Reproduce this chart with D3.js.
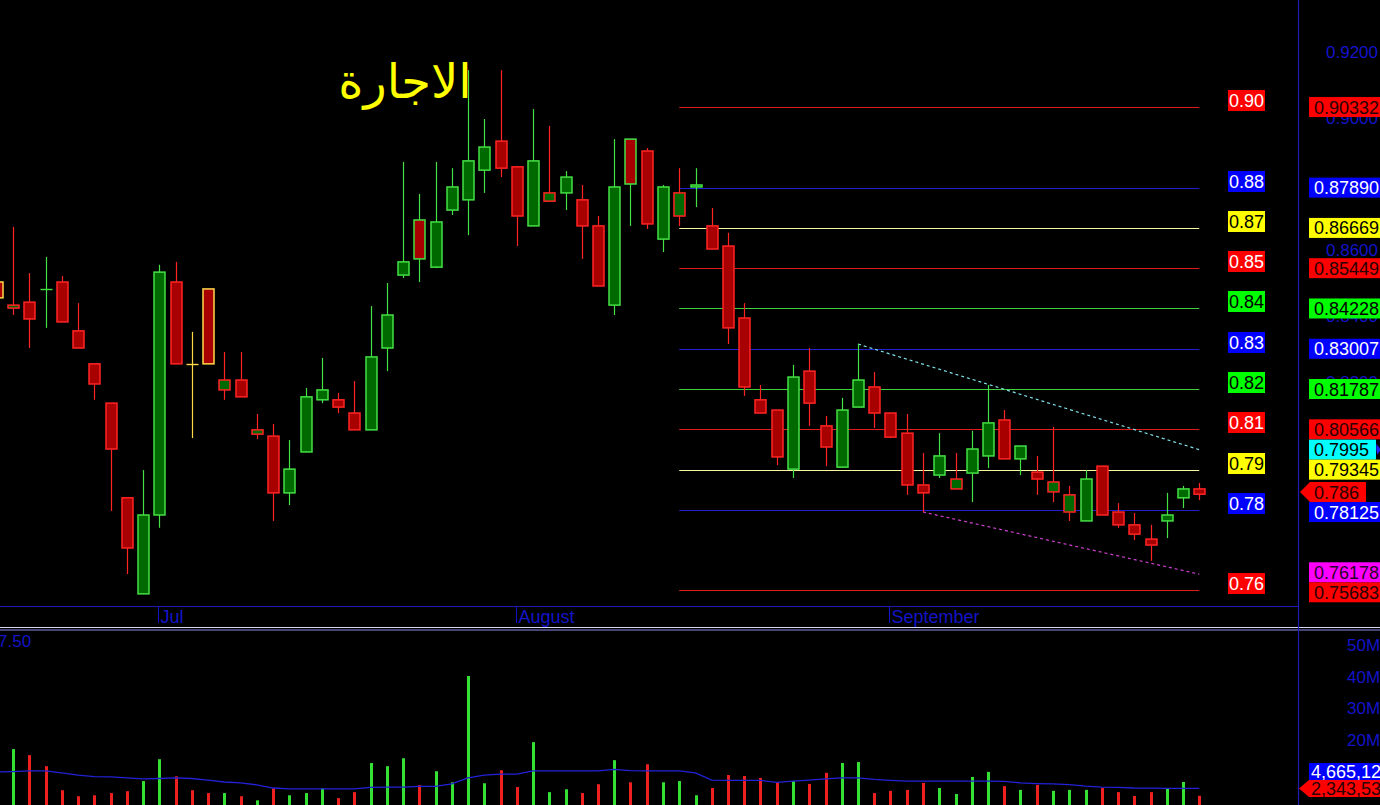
<!DOCTYPE html>
<html><head><meta charset="utf-8">
<script src="https://cdn.jsdelivr.net/npm/d3@7"></script>
<style>html,body{margin:0;padding:0;background:#000;overflow:hidden}svg{display:block}</style>
</head><body>
<svg id="c" width="1380" height="805"></svg>
<script>
// ---------------- data ----------------
const titleText = "الاجارة";
const openP = [0.8503,0.8424,0.8442,0.8482,0.8503,0.8355,0.8255,0.8136,0.7849,0.7558,
  0.7797,0.8503,0.8255,0.8482,0.8176,0.8206,0.8042,0.8036,0.7864,0.7988,
  0.8146,0.8146,0.8106,0.8055,0.8303,0.8524,0.8691,0.8548,0.8721,0.8752,
  0.8842,0.8930,0.8852,0.8673,0.8748,0.8773,0.8752,0.8673,0.8433,0.8936,
  0.8900,0.8633,0.8703,0.8791,0.8673,0.8612,0.8394,0.8146,0.8115,0.7936,
  0.8233,0.8067,0.7942,0.8124,0.8185,0.8106,0.8045,0.7888,0.7918,0.7876,
  0.7924,0.7976,0.8085,0.7967,0.7927,0.7867,0.7806,0.7779,0.7945,0.7806,
  0.7767,0.7724,0.7779,0.7849,0.7876];
const highP = [0.8524,0.8670,0.8530,0.8579,0.8521,0.8439,0.8255,0.8136,0.7849,0.7933,
  0.8555,0.8564,0.8352,0.8482,0.8291,0.8291,0.8103,0.8073,0.8024,0.8182,
  0.8273,0.8167,0.8203,0.8430,0.8500,0.8867,0.8770,0.8867,0.8848,0.9145,
  0.8997,0.9145,0.8855,0.9027,0.8976,0.8839,0.8797,0.8703,0.8936,0.8936,
  0.8909,0.8797,0.8848,0.8848,0.8727,0.8652,0.8439,0.8191,0.8115,0.8252,
  0.8303,0.8097,0.8152,0.8315,0.8230,0.8106,0.8103,0.7985,0.8045,0.7985,
  0.8052,0.8191,0.8115,0.8006,0.7976,0.8064,0.7885,0.7933,0.7945,0.7833,
  0.7803,0.7767,0.7864,0.7885,0.7894];
const lowP = [0.8433,0.8403,0.8303,0.8364,0.8382,0.8303,0.8146,0.7809,0.7618,0.7558,
  0.7758,0.8255,0.8030,0.8255,0.8146,0.8155,0.8027,0.7779,0.7827,0.7988,
  0.8136,0.8106,0.8055,0.8055,0.8233,0.8515,0.8503,0.8545,0.8706,0.8645,
  0.8773,0.8821,0.8612,0.8673,0.8748,0.8721,0.8573,0.8491,0.8403,0.8673,
  0.8664,0.8594,0.8673,0.8730,0.8603,0.8315,0.8158,0.8106,0.7948,0.7909,
  0.8067,0.7945,0.7942,0.8124,0.8061,0.8030,0.7858,0.7806,0.7909,0.7876,
  0.7836,0.7939,0.7967,0.7918,0.7858,0.7836,0.7779,0.7779,0.7797,0.7758,
  0.7721,0.7658,0.7727,0.7818,0.7842];
const closeP = [0.8455,0.8433,0.8391,0.8482,0.8382,0.8303,0.8194,0.7997,0.7697,0.7797,
  0.8533,0.8255,0.8255,0.8255,0.8206,0.8155,0.8055,0.7864,0.7936,0.8155,
  0.8176,0.8124,0.8055,0.8276,0.8403,0.8564,0.8573,0.8685,0.8791,0.8870,
  0.8912,0.8848,0.8703,0.8870,0.8773,0.8821,0.8673,0.8491,0.8791,0.8800,
  0.8679,0.8791,0.8773,0.8797,0.8603,0.8364,0.8185,0.8106,0.7973,0.8215,
  0.8136,0.8003,0.8115,0.8206,0.8106,0.8033,0.7888,0.7864,0.7976,0.7906,
  0.7997,0.8076,0.7967,0.8006,0.7906,0.7897,0.7858,0.7906,0.7797,0.7767,
  0.7739,0.7706,0.7797,0.7876,0.7860];
const prevCloseStart = 0.8455;
// volume in millions
const volumeM = [9.0,17.1,15.2,11.7,4.1,2.2,2.5,3.2,3.8,7.0,
  13.9,8.5,4.1,3.2,3.2,2.2,0.9,4.7,2.5,3.2,
  4.7,1.6,3.5,12.7,11.7,14.2,5.7,10.1,6.6,40.2,
  6.3,10.4,5.1,19.3,3.5,4.4,3.2,6.0,13.6,6.6,
  12.3,6.6,7.0,2.5,4.8,8.9,8.6,8.0,6.7,7.0,
  6.1,9.6,12.7,13.0,3.2,3.9,4.2,6.4,4.8,2.9,
  8.3,9.9,5.4,4.2,5.8,3.9,4.2,4.2,4.8,3.5,
  2.3,3.5,4.8,6.7,2.34353];
const volumeMA = [9.9,10.0,10.2,10.2,9.6,8.9,8.4,8.3,8.0,7.7,
  7.8,8.0,7.8,7.3,6.7,6.4,5.8,4.8,4.5,4.5,
  4.5,4.5,4.5,5.0,5.1,5.1,5.3,5.3,6.1,8.0,
  8.9,9.2,9.2,10.2,10.2,10.2,10.2,10.2,10.7,10.3,
  10.2,10.2,10.2,9.6,7.3,7.2,7.2,7.2,6.6,7.0,
  7.3,7.7,8.0,8.0,7.5,7.2,7.0,7.0,7.0,7.0,
  7.0,7.0,6.9,6.4,6.2,6.1,5.9,5.4,5.1,5.0,
  4.8,4.75,4.7,4.68,4.665125];
const fibLevels = [0.90332,0.87890,0.86669,0.85449,0.84228,0.83007,0.81787,0.80566,0.79345,0.78125,0.75683];
const fibShort = ["0.90","0.88","0.87","0.85","0.84","0.83","0.82","0.81","0.79","0.78","0.76"];
const fibKinds = ["red","blue","yellow","red","green","blue","green","red","yellow","blue","red"];
const fibStartIndex = 42, fibEndIndex = 74;
const trendUpper = [[53,0.8315],[74,0.7995]];
const trendLower = [[57,0.7806],[74,0.76178]];
const priceTicks = [0.92,0.90,0.88,0.86,0.84,0.82,0.80,0.78,0.76];
const volumeTicks = [20,30,40,50];
const monthLabels = ["Jul","August","September"];
const monthStartIndex = [10,32,55];
const volumeCornerText = "7.50";

// ---------------- drawing ----------------
const svg = d3.select("#c");
svg.append("rect").attr("width",1380).attr("height",805).attr("fill","#000");
const N = closeP.length;
const x = d3.scaleLinear().domain([0, N-1]).range([-3.25, 1199.25]);
const y = d3.scaleLinear().domain([0.76, 0.92]).range([580, 52]);
const yv = d3.scaleLinear().domain([0, 50]).range([803.2, 645]);

const lineCol = {red:"#e01c1c", blue:"#2020d0", yellow:"#f8f8a0", green:"#3cd03c"};
const bgCol = {red:"#ff0000", blue:"#0000ff", yellow:"#ffff00", green:"#00ff00", cyan:"#00ffff", magenta:"#ff00ff"};
const leftFg = {red:"#ffffff", blue:"#ffffff", yellow:"#000000", green:"#000000"};
const rightFg = {red:"#2a0000", blue:"#ffffff", yellow:"#000000", green:"#000000", cyan:"#000000", magenta:"#2a002a"};
const AX = "#1414c8";
const FONT = "'Liberation Sans', Arial, sans-serif";

// fib lines
const gFib = svg.append("g");
fibLevels.forEach((v,i)=>{
  gFib.append("line").attr("x1", x(fibStartIndex)).attr("x2", x(fibEndIndex))
    .attr("y1", Math.round(y(v))+0.5).attr("y2", Math.round(y(v))+0.5)
    .attr("stroke", lineCol[fibKinds[i]]).attr("stroke-width",1.2);
  const ly = Math.round(y(v));
  gFib.append("rect").attr("x",1228).attr("y",ly-17).attr("width",37).attr("height",21)
    .attr("fill", bgCol[fibKinds[i]]);
  gFib.append("text").attr("x",1246.5).attr("y",ly-0.5).attr("text-anchor","middle")
    .attr("font-family",FONT).attr("font-size",18).attr("fill",leftFg[fibKinds[i]]).text(fibShort[i]);
});

// trend lines
const tl = d3.line().x(d=>x(d[0])).y(d=>y(d[1]));
svg.append("path").attr("d", tl(trendUpper)).attr("stroke","#7fe0e8").attr("stroke-width",1.2)
  .attr("stroke-dasharray","3,3").attr("fill","none");
svg.append("path").attr("d", tl(trendLower)).attr("stroke","#d040d0").attr("stroke-width",1.2)
  .attr("stroke-dasharray","3,3").attr("fill","none");

// candles
const GREEN_F="#006a00", GREEN_B="#44e044", RED_F="#a80000", RED_B="#ff2424", YEL="#ffd84a";
const candles = d3.range(N).map(i=>{
  const pc = i===0 ? prevCloseStart : closeP[i-1];
  const c = closeP[i], o = openP[i];
  const border = c>pc ? GREEN_B : (c<pc ? RED_B : YEL);
  const fill = c>o ? GREEN_F : RED_F;
  return {i,o,h:highP[i],l:lowP[i],c,border,fill,doji:Math.abs(c-o)<1e-9};
});
const gC = svg.append("g");
const bw = 11;
candles.forEach(d=>{
  const cx = Math.round(x(d.i))+0.5;
  gC.append("line").attr("x1",cx).attr("x2",cx).attr("y1",y(d.h)).attr("y2",y(d.l))
    .attr("stroke",d.border).attr("stroke-width",1.2);
  if (d.doji) {
    gC.append("line").attr("x1",cx-bw/2-0.5).attr("x2",cx+bw/2+0.5).attr("y1",Math.round(y(d.c))+0.5).attr("y2",Math.round(y(d.c))+0.5)
      .attr("stroke",d.border).attr("stroke-width",1.4);
  } else {
    const t = y(Math.max(d.o,d.c)), b = y(Math.min(d.o,d.c));
    gC.append("rect").attr("x",cx-bw/2).attr("y",t).attr("width",bw).attr("height",Math.max(1.5,b-t))
      .attr("fill",d.fill).attr("stroke",d.border).attr("stroke-width",1.5);
  }
});

// title
svg.append("text").attr("x",405).attr("y",98).attr("text-anchor","middle")
  .attr("font-family","'DejaVu Sans', 'Noto Sans', sans-serif").attr("font-size",48)
  .attr("fill","#ffff00").attr("direction","rtl").text(titleText);

// panel frame lines
svg.append("line").attr("x1",0).attr("x2",1298).attr("y1",606.5).attr("y2",606.5).attr("stroke","#1c1cb0").attr("stroke-width",1.2);
svg.append("line").attr("x1",0).attr("x2",1380).attr("y1",627.5).attr("y2",627.5).attr("stroke","#d8d8f4").attr("stroke-width",1.2);
svg.append("line").attr("x1",0).attr("x2",1380).attr("y1",630).attr("y2",630).attr("stroke","#8c8ce8").attr("stroke-width",1.2);
svg.append("line").attr("x1",1298.5).attr("x2",1298.5).attr("y1",0).attr("y2",805).attr("stroke","#1c1cb4").attr("stroke-width",1.2);

// month axis
const gM = svg.append("g");
monthStartIndex.forEach((mi,k)=>{
  const mx = Math.round(x(mi))-0.5;
  gM.append("line").attr("x1",mx).attr("x2",mx).attr("y1",607).attr("y2",623).attr("stroke",AX).attr("stroke-width",1);
  gM.append("text").attr("x",mx+2).attr("y",622.5).attr("font-family",FONT).attr("font-size",18)
    .attr("fill",AX).text(monthLabels[k]);
});

// price axis (right)
const pAxis = svg.append("g").attr("transform","translate(1326,0)")
  .call(d3.axisRight(y).tickValues(priceTicks).tickFormat(d3.format(".4f")).tickSize(0).tickPadding(0));
pAxis.select(".domain").remove();
pAxis.selectAll("text").attr("font-family",FONT).attr("font-size",17).attr("fill",AX);

// volume bars
const gV = svg.append("g");
candles.forEach(d=>{
  const vx = Math.round(x(d.i))-1;
  gV.append("rect").attr("x",vx).attr("y",yv(volumeM[d.i])).attr("width",3)
    .attr("height",805-yv(volumeM[d.i])).attr("fill", d.c>d.o ? "#33e033" : "#ee2020");
});
// volume MA
svg.append("path").attr("d", d3.line().x((d,i)=>x(i)).y(d=>yv(d))(volumeMA))
  .attr("fill","none").attr("stroke","#2222d8").attr("stroke-width",1.3);

// volume axis
const vAxis = svg.append("g").attr("transform","translate(1347,0)")
  .call(d3.axisRight(yv).tickValues(volumeTicks).tickFormat(d=>d+"M").tickSize(0).tickPadding(0));
vAxis.select(".domain").remove();
vAxis.selectAll("text").attr("font-family",FONT).attr("font-size",17).attr("fill",AX);
svg.append("text").attr("x",-2).attr("y",647).attr("font-family",FONT).attr("font-size",17)
  .attr("fill",AX).text(volumeCornerText);

// right-side price labels with simple collision relaxation
const rl = fibLevels.map((v,i)=>({v, text:d3.format(".5f")(v), kind:fibKinds[i]}));
rl.push({v:trendUpper[1][1], text:d3.format(".4f")(trendUpper[1][1]), kind:"cyan", tail:true});
rl.push({v:trendLower[1][1], text:d3.format(".5f")(trendLower[1][1]), kind:"magenta"});
rl.push({v:closeP[N-1], text:d3.format(".3f")(closeP[N-1]), kind:"red", arrow:true});
rl.forEach(d=>d.cy=y(d.v));
rl.sort((a,b)=>a.cy-b.cy);
const H=20;
for (let it=0; it<60; it++){
  for (let k=0;k<rl.length-1;k++){
    const a=rl[k], b=rl[k+1], ov = H-(b.cy-a.cy);
    if (ov>0){ a.cy-=ov/2; b.cy+=ov/2; }
  }
}
const gR = svg.append("g");
rl.forEach(d=>{
  const t=d.cy-H/2, bt=d.cy+H/2;
  if (d.arrow){
    gR.append("path").attr("d",`M1300,${d.cy} L1310,${t} L1366,${t} L1366,${bt} L1310,${bt} Z`).attr("fill",bgCol[d.kind]);
    gR.append("text").attr("x",1314).attr("y",d.cy+6.5).attr("font-family",FONT).attr("font-size",18).attr("fill",rightFg[d.kind]).text(d.text);
  } else {
    const w = d.tail ? 67 : 75;
    gR.append("rect").attr("x",1309).attr("y",t).attr("width",w).attr("height",H).attr("fill",bgCol[d.kind]);
    if (d.tail) gR.append("path").attr("d",`M1377,${d.cy-5} L1381,${d.cy} L1377,${d.cy+5} Z`).attr("fill","#2020ff");
    gR.append("text").attr("x",1314).attr("y",d.cy+6.5).attr("font-family",FONT).attr("font-size",18).attr("fill",rightFg[d.kind]).text(d.text);
  }
});

// volume labels
const lastV = volumeM[N-1], lastMA = volumeMA[N-1];
const vcy = Math.min(yv(lastV), 788.5);
const macy = Math.min(yv(lastMA), vcy-17);
const fmtVol = v => d3.format(",")(Math.round(v*1e6));
svg.append("rect").attr("x",1309).attr("y",macy-8.5).attr("width",75).attr("height",17).attr("fill","#0000ff");
svg.append("text").attr("x",1311).attr("y",macy+6).attr("font-family",FONT).attr("font-size",18).attr("fill","#fff").text(fmtVol(lastMA));
svg.append("path").attr("d",`M1299,${vcy} L1309,${vcy-8.5} L1384,${vcy-8.5} L1384,${vcy+8.5} L1309,${vcy+8.5} Z`).attr("fill","#ff0000");
svg.append("text").attr("x",1311).attr("y",vcy+6).attr("font-family",FONT).attr("font-size",18).attr("fill","#2a0000").text(fmtVol(lastV));
</script>
</body></html>
